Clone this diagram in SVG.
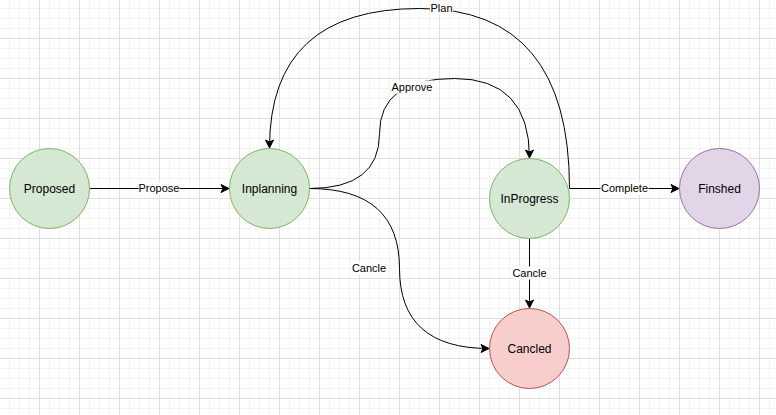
<svg xmlns="http://www.w3.org/2000/svg" width="776" height="415" viewBox="0 0 776 415">
<style>
.node circle{stroke-width:1}
.green{fill:#d5e8d4;stroke:#82b366}
.purple{fill:#e1d5e7;stroke:#9673a6}
.red{fill:#f8cecc;stroke:#b85450}
.nt{font-family:"Liberation Sans",Arial,sans-serif;font-size:12px;fill:#000;text-anchor:middle}
.edge{fill:none;stroke:#000;stroke-width:1}
.lbg{fill:#fff}
.lt{font-family:"Liberation Sans",Arial,sans-serif;font-size:11px;fill:#000;text-anchor:middle}
</style>
<defs>
<pattern id="grid" patternUnits="userSpaceOnUse" x="0" y="0" width="40" height="40">
<path d="M9.5 0V40M19.5 0V40M29.5 0V40M0 8.5H40M0 18.5H40M0 28.5H40" stroke="#f3f3f3" stroke-width="1" fill="none"/>
<path d="M39.5 0V40M0 38.5H40" stroke="#e0e0e0" stroke-width="1" fill="none"/>
</pattern>
<marker id="arr" markerUnits="userSpaceOnUse" markerWidth="12" markerHeight="12" viewBox="-10 -6 12 12" refX="0" refY="0" orient="auto">
<path d="M0 0L-8 -4L-6 0L-8 4Z" fill="#000" stroke="#000" stroke-width="1" stroke-linejoin="miter"/>
</marker>
</defs>
<rect x="0" y="0" width="776" height="415" fill="#fff"/>
<rect x="0" y="0" width="776" height="415" fill="url(#grid)"/>

<g id="connectors">
<path id="e-propose" class="edge" d="M89.5 188.5H229" marker-end="url(#arr)"/>
<path id="e-plan" class="edge" d="M569.5 188.5Q569.5 8.5 419.5 8.5Q269.5 8.5 269.5 148" marker-end="url(#arr)"/>
<path id="e-approve" class="edge" d="M309.5 188.5Q379.5 188.5 379.5 133.5Q379.5 78.5 454.5 78.5Q529.5 78.5 529.5 158" marker-end="url(#arr)"/>
<path id="e-cancle1" class="edge" d="M309.5 188.5Q399.5 188.5 399.5 268.5Q399.5 348.5 489 348.5" marker-end="url(#arr)"/>
<path id="e-complete" class="edge" d="M569.5 188.5H679" marker-end="url(#arr)"/>
<path id="e-cancle2" class="edge" d="M529.5 238.5V308" marker-end="url(#arr)"/>

<rect class="lbg" x="138.5" y="182" width="41" height="13"/>
<text class="lt" x="159" y="192">Propose</text>
<rect class="lbg" x="430" y="1.5" width="23" height="13"/>
<text class="lt" x="441.5" y="12">Plan</text>
<rect class="lbg" x="391" y="80.5" width="42" height="13"/>
<text class="lt" x="412" y="91">Approve</text>
<rect class="lbg" x="352.5" y="261.5" width="33" height="13"/>
<text class="lt" x="369" y="272">Cancle</text>
<rect class="lbg" x="600.5" y="182" width="48" height="13"/>
<text class="lt" x="624.5" y="192">Complete</text>
<rect class="lbg" x="513" y="266.5" width="33" height="13"/>
<text class="lt" x="529.5" y="277">Cancle</text>
</g>

<g id="node-proposed" class="node">
<circle class="green" cx="49.5" cy="188.5" r="40"/>
<text class="nt" x="49.5" y="192.5">Proposed</text>
</g>
<g id="node-inplanning" class="node">
<circle class="green" cx="269.5" cy="188.5" r="40"/>
<text class="nt" x="269.5" y="192.5">Inplanning</text>
</g>
<g id="node-inprogress" class="node">
<circle class="green" cx="529.5" cy="198.5" r="40"/>
<text class="nt" x="529.5" y="202.5">InProgress</text>
</g>
<g id="node-finshed" class="node">
<circle class="purple" cx="719.5" cy="188.5" r="40"/>
<text class="nt" x="719.5" y="192.5">Finshed</text>
</g>
<g id="node-cancled" class="node">
<circle class="red" cx="529.5" cy="348.5" r="40"/>
<text class="nt" x="529.5" y="352.5">Cancled</text>
</g>
</svg>
